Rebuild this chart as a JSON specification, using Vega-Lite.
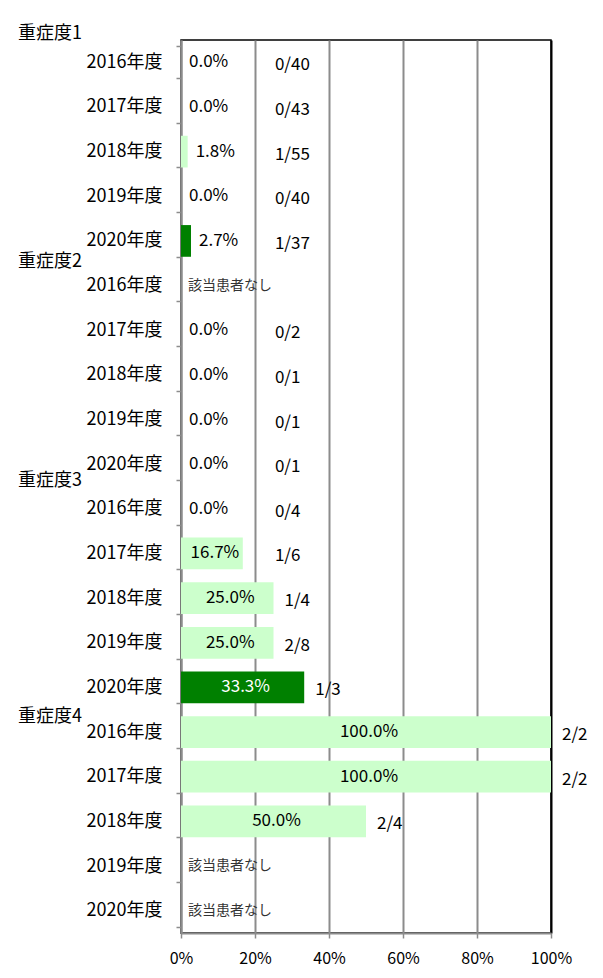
{
  "$schema": "https://vega.github.io/schema/vega-lite/v6.json",
  "width": 370,
  "height": 893,
  "autosize": "none",
  "padding": {"left": 181, "top": 40, "right": 52, "bottom": 45},
  "background": "white",
  "config": {
    "font": "Noto Sans CJK JP",
    "view": {"stroke": "black", "strokeWidth": 1.5}
  },
  "data": {
    "values": [
      {"key": "重症度1|2016年度", "year": "2016年度", "rate": 0.0, "frac": "0/40", "note": null, "glabel": "重症度1"},
      {"key": "重症度1|2017年度", "year": "2017年度", "rate": 0.0, "frac": "0/43", "note": null, "glabel": null},
      {"key": "重症度1|2018年度", "year": "2018年度", "rate": 0.018, "frac": "1/55", "note": null, "glabel": null},
      {"key": "重症度1|2019年度", "year": "2019年度", "rate": 0.0, "frac": "0/40", "note": null, "glabel": null},
      {"key": "重症度1|2020年度", "year": "2020年度", "rate": 0.027, "frac": "1/37", "note": null, "glabel": null},
      {"key": "重症度2|2016年度", "year": "2016年度", "rate": null, "frac": null, "note": "該当患者なし", "glabel": "重症度2"},
      {"key": "重症度2|2017年度", "year": "2017年度", "rate": 0.0, "frac": "0/2", "note": null, "glabel": null},
      {"key": "重症度2|2018年度", "year": "2018年度", "rate": 0.0, "frac": "0/1", "note": null, "glabel": null},
      {"key": "重症度2|2019年度", "year": "2019年度", "rate": 0.0, "frac": "0/1", "note": null, "glabel": null},
      {"key": "重症度2|2020年度", "year": "2020年度", "rate": 0.0, "frac": "0/1", "note": null, "glabel": null},
      {"key": "重症度3|2016年度", "year": "2016年度", "rate": 0.0, "frac": "0/4", "note": null, "glabel": "重症度3"},
      {"key": "重症度3|2017年度", "year": "2017年度", "rate": 0.167, "frac": "1/6", "note": null, "glabel": null},
      {"key": "重症度3|2018年度", "year": "2018年度", "rate": 0.25, "frac": "1/4", "note": null, "glabel": null},
      {"key": "重症度3|2019年度", "year": "2019年度", "rate": 0.25, "frac": "2/8", "note": null, "glabel": null},
      {"key": "重症度3|2020年度", "year": "2020年度", "rate": 0.333, "frac": "1/3", "note": null, "glabel": null},
      {"key": "重症度4|2016年度", "year": "2016年度", "rate": 1.0, "frac": "2/2", "note": null, "glabel": "重症度4"},
      {"key": "重症度4|2017年度", "year": "2017年度", "rate": 1.0, "frac": "2/2", "note": null, "glabel": null},
      {"key": "重症度4|2018年度", "year": "2018年度", "rate": 0.5, "frac": "2/4", "note": null, "glabel": null},
      {"key": "重症度4|2019年度", "year": "2019年度", "rate": null, "frac": null, "note": "該当患者なし", "glabel": null},
      {"key": "重症度4|2020年度", "year": "2020年度", "rate": null, "frac": null, "note": "該当患者なし", "glabel": null}
    ]
  },
  "encoding": {
    "y": {
      "field": "key",
      "type": "nominal",
      "sort": null,
      "scale": {
        "domain": [
          "重症度1|2016年度", "重症度1|2017年度", "重症度1|2018年度", "重症度1|2019年度", "重症度1|2020年度",
          "重症度2|2016年度", "重症度2|2017年度", "重症度2|2018年度", "重症度2|2019年度", "重症度2|2020年度",
          "重症度3|2016年度", "重症度3|2017年度", "重症度3|2018年度", "重症度3|2019年度", "重症度3|2020年度",
          "重症度4|2016年度", "重症度4|2017年度", "重症度4|2018年度", "重症度4|2019年度", "重症度4|2020年度"
        ],
        "paddingInner": 0.29,
        "paddingOuter": 0.145
      },
      "axis": {
        "title": null,
        "labelExpr": "split(datum.value, '|')[1]",
        "labelFontSize": 18,
        "labelColor": "black",
        "labelAngle": 0,
        "labelPadding": 14,
        "tickBand": "extent",
        "tickSize": 5,
        "tickColor": "#8c8c8c",
        "tickWidth": 1.5,
        "domainColor": "#8c8c8c",
        "domainWidth": 2
      }
    }
  },
  "layer": [
    {
      "mark": {"type": "bar"},
      "transform": [{"filter": "datum.rate != null"}],
      "encoding": {
        "x": {
          "field": "rate",
          "type": "quantitative",
          "scale": {"domain": [0, 1]},
          "axis": {
            "title": null,
            "format": "%",
            "values": [0, 0.2, 0.4, 0.6, 0.8, 1],
            "labelFontSize": 16,
            "labelColor": "black",
            "labelFlush": false,
            "labelPadding": 12,
            "tickSize": 5,
            "tickColor": "#8c8c8c",
            "tickWidth": 1.5,
            "domainColor": "#8c8c8c",
            "domainWidth": 2,
            "grid": true,
            "gridWidth": 2,
            "gridColor": {"condition": {"test": "datum.value >= 1", "value": "black"}, "value": "#8c8c8c"}
          }
        },
        "color": {
          "condition": {"test": "datum.year === '2020年度'", "value": "#008000"},
          "value": "#CCFFCC"
        }
      }
    },
    {
      "mark": {"type": "text", "align": "left", "baseline": "middle", "dx": 8, "fontSize": 17, "color": "black"},
      "transform": [{"filter": "datum.rate != null && datum.rate < 0.1"}],
      "encoding": {
        "x": {"field": "rate", "type": "quantitative", "axis": {"title": null}},
        "text": {"field": "rate", "type": "quantitative", "format": ".1%"}
      }
    },
    {
      "mark": {"type": "text", "align": "center", "baseline": "middle", "dx": 3, "fontSize": 17},
      "transform": [
        {"filter": "datum.rate != null && datum.rate >= 0.1"},
        {"calculate": "datum.rate / 2", "as": "mid"}
      ],
      "encoding": {
        "x": {"field": "mid", "type": "quantitative", "axis": {"title": null}},
        "text": {"field": "rate", "type": "quantitative", "format": ".1%"},
        "color": {
          "condition": {"test": "datum.year === '2020年度'", "value": "white"},
          "value": "black"
        }
      }
    },
    {
      "mark": {"type": "text", "align": "left", "baseline": "middle", "dx": 11, "dy": 3, "fontSize": 17, "color": "black"},
      "transform": [
        {"filter": "datum.frac != null"},
        {"calculate": "max(datum.rate, 0.224)", "as": "fx"}
      ],
      "encoding": {
        "x": {"field": "fx", "type": "quantitative", "axis": {"title": null}},
        "text": {"field": "frac", "type": "nominal"}
      }
    },
    {
      "mark": {"type": "text", "align": "left", "baseline": "middle", "dx": 7, "fontSize": 14, "color": "#333333"},
      "transform": [{"filter": "datum.note != null"}],
      "encoding": {
        "x": {"datum": 0, "type": "quantitative", "axis": {"title": null}},
        "text": {"field": "note", "type": "nominal"}
      }
    },
    {
      "mark": {"type": "text", "align": "left", "baseline": "middle", "dx": -163, "dy": -28, "fontSize": 18, "color": "black"},
      "transform": [{"filter": "datum.glabel === '重症度1' || datum.glabel === '重症度3'"}],
      "encoding": {
        "x": {"datum": 0, "type": "quantitative", "axis": {"title": null}},
        "text": {"field": "glabel", "type": "nominal"}
      }
    },
    {
      "mark": {"type": "text", "align": "left", "baseline": "middle", "dx": -163, "dy": -24, "fontSize": 18, "color": "black"},
      "transform": [{"filter": "datum.glabel === '重症度2'"}],
      "encoding": {
        "x": {"datum": 0, "type": "quantitative", "axis": {"title": null}},
        "text": {"field": "glabel", "type": "nominal"}
      }
    },
    {
      "mark": {"type": "text", "align": "left", "baseline": "middle", "dx": -163, "dy": -15, "fontSize": 18, "color": "black"},
      "transform": [{"filter": "datum.glabel === '重症度4'"}],
      "encoding": {
        "x": {"datum": 0, "type": "quantitative", "axis": {"title": null}},
        "text": {"field": "glabel", "type": "nominal"}
      }
    }
  ]
}
